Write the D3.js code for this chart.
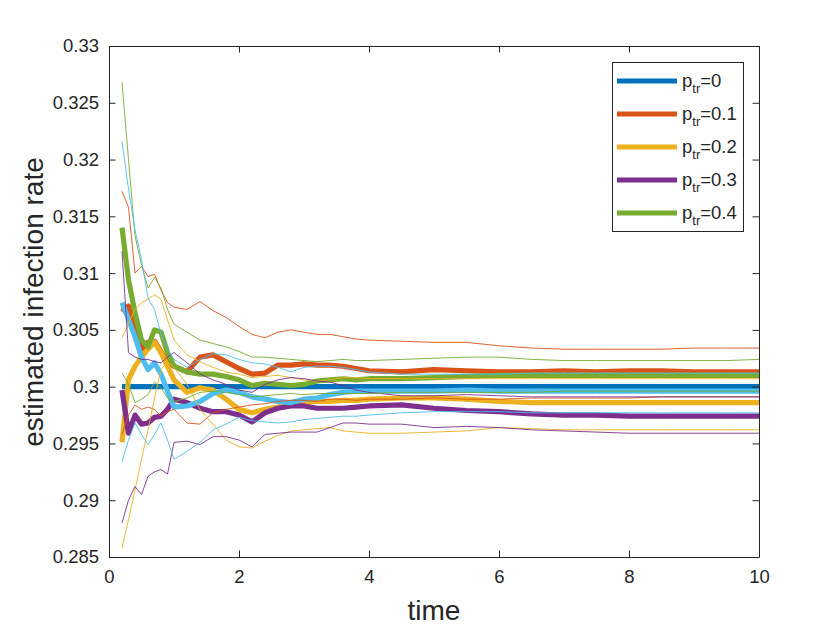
<!DOCTYPE html>
<html>
<head>
<meta charset="utf-8">
<script src="https://cdn.jsdelivr.net/npm/d3@7"></script>
<style>
	body { margin: 0; background: #fff; }
	svg { display: block; }
</style>
</head>
<body>
<div id="chart"></div>
<script>
// time steps of the estimate
var times = [0.2,0.3,0.4,0.5,0.6,0.7,0.8,0.9,1.0, 1.2,1.4,1.6,1.8,2.0,2.2,2.4,2.6,2.8,3.0,3.2,3.4,3.6,3.8,4.0, 4.5,5,5.5,6,6.5,7,7.5,8,8.5,9,9.5,10]

// thick lines: mean estimate for each p_tr
var meanP0  = times.map(function(){ return 0.3 })
var meanP01 = [0.3066,0.3071,0.3050,0.3033,0.3039,0.3040,0.3031,0.3021,0.3018, 0.3013,0.3026,0.3028,0.3022,0.3016,0.3011,0.3012,0.3019,0.3019,0.3020,0.3019,0.3019,0.3018,0.3016,0.3014, 0.3013,0.3015,0.3014,0.3013,0.3013,0.3014,0.3013,0.3014,0.3014,0.3013,0.3013,0.3013]
var meanP02 = [0.2951,0.3006,0.3018,0.3026,0.3033,0.3039,0.3030,0.3018,0.3006, 0.2995,0.2999,0.2997,0.2989,0.2980,0.2977,0.2980,0.2982,0.2984,0.2986,0.2987,0.2987,0.2988,0.2988,0.2989, 0.2990,0.2990,0.2989,0.2987,0.2986,0.2986,0.2986,0.2986,0.2986,0.2986,0.2986,0.2986]
var meanP03 = [0.2997,0.2959,0.2975,0.2967,0.2968,0.2973,0.2974,0.2980,0.2989, 0.2986,0.2981,0.2978,0.2978,0.2975,0.2969,0.2977,0.2981,0.2983,0.2983,0.2981,0.2981,0.2981,0.2982,0.2983, 0.2984,0.2981,0.2979,0.2978,0.2976,0.2975,0.2975,0.2974,0.2974,0.2974,0.2974,0.2974]
var meanP04 = [0.3140,0.3094,0.3065,0.3041,0.3035,0.3050,0.3048,0.3030,0.3018, 0.3013,0.3011,0.3011,0.3009,0.3006,0.3001,0.3003,0.3002,0.3001,0.3002,0.3005,0.3006,0.3007,0.3006,0.3007, 0.3007,0.3008,0.3009,0.3010,0.3010,0.3010,0.3010,0.3010,0.3010,0.3010,0.3010,0.3010]
var meanP05 = [0.3074,0.3059,0.3044,0.3026,0.3015,0.3021,0.3011,0.2996,0.2982, 0.2983,0.2987,0.2994,0.2997,0.2995,0.2991,0.2989,0.2987,0.2986,0.2989,0.2990,0.2993,0.2995,0.2996,0.2996, 0.2996,0.2996,0.2997,0.2996,0.2996,0.2996,0.2996,0.2996,0.2996,0.2996,0.2996,0.2996]

// thin lines: upper / lower bounds
var upP01 = [0.3172,0.3158,0.3100,0.3106,0.3097,0.3099,0.3085,0.3074,0.3070, 0.3068,0.3075,0.3067,0.3061,0.3053,0.3046,0.3043,0.3048,0.3050,0.3048,0.3046,0.3046,0.3044,0.3042,0.3041, 0.3040,0.3039,0.3039,0.3036,0.3034,0.3033,0.3033,0.3033,0.3033,0.3034,0.3034,0.3034]
var loP01 = [0.2958,0.2975,0.2984,0.2980,0.2982,0.2980,0.2974,0.2978,0.2980, 0.2968,0.2967,0.2977,0.2980,0.2982,0.2984,0.2985,0.2987,0.2988,0.2988,0.2987,0.2989,0.2989,0.2988,0.2989, 0.2989,0.2990,0.2989,0.2989,0.2990,0.2990,0.2990,0.2990,0.2991,0.2991,0.2991,0.2991]
var upP02 = [0.3043,0.3055,0.3068,0.3074,0.3077,0.3081,0.3077,0.3059,0.3041, 0.3028,0.3022,0.3017,0.3013,0.3011,0.3008,0.3009,0.3010,0.3008,0.3006,0.3005,0.3006,0.3008,0.3008,0.3007, 0.3007,0.3007,0.3007,0.3007,0.3007,0.3007,0.3007,0.3007,0.3007,0.3007,0.3007,0.3007]
var loP02 = [0.2858,0.2883,0.2909,0.2936,0.2962,0.2990,0.3015,0.3022,0.3017, 0.3002,0.2980,0.2967,0.2953,0.2947,0.2946,0.2952,0.2957,0.2961,0.2962,0.2963,0.2964,0.2961,0.2960,0.2959, 0.2959,0.2960,0.2961,0.2964,0.2963,0.2962,0.2962,0.2962,0.2962,0.2962,0.2962,0.2962]
var upP03 = [0.3119,0.3030,0.3026,0.3024,0.3024,0.3022,0.3021,0.3026,0.3030, 0.3021,0.3011,0.3006,0.3002,0.2997,0.2995,0.3002,0.3006,0.3008,0.3007,0.3005,0.3004,0.3001,0.2997,0.2995, 0.2992,0.2992,0.2993,0.2992,0.2991,0.2991,0.2991,0.2991,0.2991,0.2991,0.2991,0.2991]
var loP03 = [0.2880,0.2900,0.2912,0.2905,0.2921,0.2925,0.2927,0.2923,0.2951, 0.2952,0.2949,0.2956,0.2956,0.2953,0.2947,0.2958,0.2959,0.2960,0.2960,0.2960,0.2964,0.2968,0.2968,0.2967, 0.2967,0.2964,0.2965,0.2964,0.2962,0.2961,0.2960,0.2959,0.2959,0.2959,0.2959,0.2959]
var upP04 = [0.3268,0.3200,0.3133,0.3107,0.3087,0.3096,0.3087,0.3068,0.3055, 0.3048,0.3041,0.3038,0.3035,0.3031,0.3026,0.3026,0.3025,0.3024,0.3023,0.3022,0.3023,0.3024,0.3023,0.3023, 0.3024,0.3025,0.3026,0.3026,0.3024,0.3023,0.3023,0.3023,0.3023,0.3023,0.3023,0.3024]
var loP04 = [0.3012,0.3002,0.2986,0.2989,0.2993,0.3004,0.2999,0.2990,0.2987, 0.2990,0.2995,0.2996,0.2995,0.2993,0.2991,0.2992,0.2993,0.2994,0.2993,0.2994,0.2994,0.2994,0.2994,0.2994, 0.2995,0.2995,0.2995,0.2995,0.2995,0.2996,0.2996,0.2996,0.2996,0.2996,0.2996,0.2996]
var upP05 = [0.3216,0.3174,0.3138,0.3112,0.3078,0.3068,0.3046,0.3033,0.3024, 0.3017,0.3024,0.3029,0.3028,0.3024,0.3021,0.3020,0.3017,0.3013,0.3017,0.3018,0.3018,0.3017,0.3015,0.3013, 0.3011,0.3011,0.3011,0.3011,0.3012,0.3012,0.3012,0.3012,0.3012,0.3012,0.3012,0.3012]
var loP05 = [0.2934,0.2953,0.2968,0.2958,0.2949,0.2958,0.2968,0.2953,0.2936, 0.2943,0.2951,0.2962,0.2967,0.2973,0.2970,0.2969,0.2968,0.2969,0.2971,0.2972,0.2973,0.2974,0.2974,0.2975, 0.2977,0.2978,0.2978,0.2978,0.2977,0.2977,0.2977,0.2977,0.2977,0.2977,0.2977,0.2977]

var legendLabels = ['0', '0.1', '0.2', '0.3', '0.4']
var colors = ['#0072BD', '#D95319', '#EDB120', '#7E2F8E', '#77AC30', '#4DBEEE']
var xTicks = [0, 2, 4, 6, 8, 10]
var yTicks = [0.285, 0.29, 0.295, 0.3, 0.305, 0.31, 0.315, 0.32, 0.325, 0.33]

var thick = [meanP0, meanP01, meanP02, meanP03, meanP04, meanP05]
// [series, colour index]
var thin = [[upP01,1],[loP01,1],[upP02,2],[loP02,2],[upP03,3],[loP03,3],[upP04,4],[loP04,4],[upP05,5],[loP05,5]]

var W = 840, H = 630
// plot box (window.top is read only, so no 'top' here)
var pL = 109, pR = 759, pT = 46, pB = 557
var FONT = '"Liberation Sans", Arial, Helvetica, sans-serif'
var AX = '#262626'

var svg = d3.select('#chart').append('svg')
	.attr('width', W).attr('height', H)
	.style('font-family', FONT)

var x = d3.scaleLinear().domain([0, 10]).range([pL, pR])
var y = d3.scaleLinear().domain([0.285, 0.33]).range([pB, pT])

svg.append('defs').append('clipPath').attr('id', 'clip')
	.append('rect').attr('x', pL).attr('y', pT)
	.attr('width', pR-pL).attr('height', pB-pT)

var line = d3.line()
	.x(function(d, i){ return x(times[i]) })
	.y(function(d){ return y(d) })

var plot = svg.append('g').attr('clip-path', 'url(#clip)')

// thick mean lines first
plot.selectAll('.mean')
	.data(thick)
	.enter()
	.append('path')
	.attr('class', 'mean')
	.attr('d', line)
	.attr('fill', 'none')
	.attr('stroke', function(d, i){ return colors[i] })
	.attr('stroke-width', 5.2)
	.attr('stroke-linejoin', 'round')

plot.selectAll('.bound')
	.data(thin)
	.enter()
	.append('path')
	.attr('class', 'bound')
	.attr('d', function(d){ return line(d[0]) })
	.attr('fill', 'none')
	.attr('stroke', function(d){ return colors[d[1]] })
	.attr('stroke-width', 0.9)
	.attr('stroke-linejoin', 'round')

// axes, ticks inside on all four sides
var tl = 6.5
var xAxisB = d3.axisBottom(x).tickValues(xTicks).tickSizeInner(-tl).tickSizeOuter(0).tickFormat(d3.format('d'))
var xAxisT = d3.axisTop(x).tickValues(xTicks).tickSizeInner(-tl).tickSizeOuter(0).tickFormat('')
var yAxisL = d3.axisLeft(y).tickValues(yTicks).tickSizeInner(-tl).tickSizeOuter(0).tickFormat(function(d){ return +d.toFixed(3) + '' })
var yAxisR = d3.axisRight(y).tickValues(yTicks).tickSizeInner(-tl).tickSizeOuter(0).tickFormat('')

function styleAxis(g)
{
	g.select('.domain').attr('stroke', AX).attr('stroke-width', 1)
	g.selectAll('.tick line').attr('stroke', AX).attr('stroke-width', 1)
	g.selectAll('.tick text').attr('fill', AX).style('font-size', '18.5px').style('font-family', FONT)
}

svg.append('g').attr('transform', 'translate(0,' + pB + ')').call(xAxisB).call(styleAxis)
	.selectAll('.tick text').attr('y', 13)
svg.append('g').attr('transform', 'translate(0,' + pT + ')').call(xAxisT).call(styleAxis)
svg.append('g').attr('transform', 'translate(' + pL + ',0)').call(yAxisL).call(styleAxis)
	.selectAll('.tick text').attr('x', -10)
svg.append('g').attr('transform', 'translate(' + pR + ',0)').call(yAxisR).call(styleAxis)

// axis labels
svg.append('text')
	.attr('x', (pL+pR)/2).attr('y', 620)
	.attr('text-anchor', 'middle')
	.style('font-size', '28px')
	.attr('fill', AX)
	.text('time')

svg.append('text')
	.attr('transform', 'translate(43,302) rotate(-90)')
	.attr('text-anchor', 'middle')
	.style('font-size', '28px')
	.attr('fill', AX)
	.text('estimated infection rate')

// legend
var lg = svg.append('g')
lg.append('rect')
	.attr('x', 612.5).attr('y', 62.5).attr('width', 131).attr('height', 169)
	.attr('fill', '#fff').attr('stroke', AX).attr('stroke-width', 1)

var ly = d3.scaleLinear().domain([0, 4]).range([81, 213])

var item = lg.selectAll('.item')
	.data(legendLabels)
	.enter()
	.append('g')
	.attr('class', 'item')
	.attr('transform', function(d, i){ return 'translate(0,' + ly(i) + ')' })

item.append('line')
	.attr('x1', 617).attr('x2', 677)
	.attr('stroke', function(d, i){ return colors[i] })
	.attr('stroke-width', 5)

var lt = item.append('text')
	.attr('x', 682).attr('y', 6)
	.attr('fill', AX)
	.style('font-size', '18.5px')
lt.append('tspan').text('p')
lt.append('tspan').attr('dy', 6).style('font-size', '13px').text('tr')
lt.append('tspan').attr('dy', -6).text(function(d){ return '=' + d })
</script>
</body>
</html>
